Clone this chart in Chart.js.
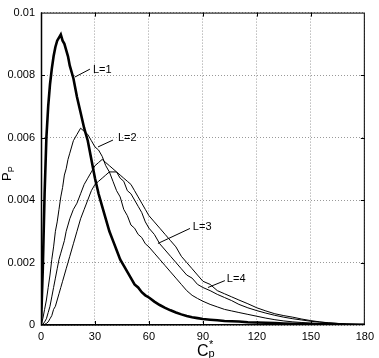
<!DOCTYPE html>
<html>
<head>
<meta charset="utf-8">
<script src="https://cdn.jsdelivr.net/npm/chart.js@4.4.1/dist/chart.umd.min.js"></script>
<style>
  html, body { margin: 0; padding: 0; background: #fff; }
</style>
</head>
<body>
<canvas id="chart" width="379" height="358"></canvas>
<script>
// ===== DATA =====
const cp = [0,1,2,3,4,5,6,7,8,9,10,11,12,13,14,15,16,
  18,20,22,24,26,28,30,32,34,36,38,40,42,44,46,48,50,52,54,56,58,60,
  63,66,69,72,75,78,81,84,87,90,
  94,98,102,106,110,
  115,120,125,130,135,140,145,150,155,160,165,170,175,180];

const pL1 = [0,0.0018,0.0042,0.0060,0.0070,0.0077,0.0082,0.0086,0.0089,0.0091,0.0092,0.0093,0.0091,0.0090,0.0088,0.0086,0.0083,
  0.0079,0.0073,0.0068,0.0063,0.0059,0.0053,0.0047,0.0042,0.0038,0.0034,0.0030,0.0027,0.0024,0.0021,0.0019,0.0017,0.0015,0.0013,0.0012,0.00105,0.00095,0.00088,
  0.00075,0.00064,0.00055,0.00047,0.00040,0.00034,0.00029,0.00025,0.00022,0.00019,
  0.00017,0.00015,0.00013,0.00012,0.00011,
  0.00009,0.00008,0.00007,0.00006,0.00005,0.00004,0.000035,0.00003,0.000025,0.00002,0.000015,0.00001,0.00001,0.000005];

const pL2 = [0,0.0002,0.0005,0.0008,0.0012,0.0016,0.0021,0.0025,0.0030,0.0033,0.0037,0.0041,0.0044,0.0048,0.0050,0.0053,0.0055,
  0.0059,0.0061,0.0063,0.0062,0.0061,0.0059,0.0057,0.0056,0.0054,0.0051,0.0049,0.0046,0.0043,0.0041,0.0037,0.0035,0.0032,0.0031,0.0029,0.0028,0.0026,0.0025,
  0.0023,0.0021,0.0019,0.0017,0.0015,0.0013,0.0011,0.00095,0.00085,0.00076,
  0.00066,0.00058,0.0005,0.00045,0.0004,
  0.00034,0.00028,0.00022,0.00017,0.00013,0.0001,0.00008,0.00006,0.00005,0.00004,0.00003,0.00002,0.00001,0.00001];

const pL3 = [0,0.00002,0.0001,0.0002,0.0004,0.0006,0.0009,0.0012,0.0015,0.0018,0.0021,0.0023,0.0025,0.0027,0.0030,0.0032,0.0034,
  0.0037,0.0039,0.0042,0.0045,0.0047,0.0049,0.0051,0.0052,0.0053,0.0052,0.0051,0.0050,0.0049,0.0047,0.0046,0.0043,0.0042,0.0040,0.0038,0.0036,0.0033,0.0031,
  0.0029,0.0026,0.0024,0.0022,0.0020,0.0018,0.0016,0.0015,0.0013,0.0012,
  0.0011,0.00098,0.00088,0.00078,0.00066,
  0.00055,0.00046,0.00038,0.00031,0.00025,0.0002,0.00016,0.00012,0.00009,0.00007,0.00005,0.00003,0.00002,0.00001];

const pL4 = [0,0,0.00002,0.00005,0.0001,0.0002,0.0003,0.0005,0.0006,0.0008,0.0010,0.0012,0.0014,0.0016,0.0018,0.0020,0.0022,
  0.0026,0.0030,0.0034,0.0037,0.0040,0.0043,0.0045,0.0046,0.0047,0.0048,0.0049,0.0049,0.0049,0.0048,0.0047,0.0046,0.0045,0.0043,0.0041,0.0039,0.0037,0.0035,
  0.0033,0.0031,0.0029,0.0027,0.0025,0.0022,0.0020,0.0018,0.0016,0.0014,
  0.0013,0.0011,0.0010,0.0009,0.0008,
  0.00068,0.00055,0.00045,0.00036,0.0003,0.00025,0.00019,0.00014,0.0001,0.00007,0.00005,0.00003,0.00002,0.00001];

const seriesNames = ["L=1", "L=2", "L=3", "L=4"];
const xTicks = [0, 30, 60, 90, 120, 150, 180];
const yTicks = [0, 0.002, 0.004, 0.006, 0.008, 0.01];

// callout labels: text anchor and pointer line, in data units
const calloutText = [[28.9, 0.00816], [42.8, 0.00598], [84.4, 0.00315], [103.3, 0.00148]];
const calloutLine = [
  [[27.2, 0.00819], [18.9, 0.00794]],
  [[40.0, 0.00592], [31.7, 0.0057]],
  [[82.8, 0.00309], [65.0, 0.00261]],
  [[102.2, 0.00142], [92.8, 0.0012]]
];

const FONT = "'Liberation Sans', Arial, Helvetica, sans-serif";

const pts = (ys) => cp.map((x, i) => ({x, y: ys[i]}));

// frame, inner ticks, axis titles, callouts
const decor = {
  id: "decor",
  afterDraw(chart){
    const {ctx, chartArea: a, scales: {x, y}} = chart;
    ctx.save();
    ctx.strokeStyle = "#000";
    ctx.lineWidth = 1;
    ctx.strokeRect(a.left + 0.5, a.top + 0.5, a.right - a.left - 1, a.bottom - a.top - 1);
    ctx.lineWidth = 1.5;
    ctx.beginPath();
    ctx.moveTo(a.left + 0.5, a.top); ctx.lineTo(a.left + 0.5, a.bottom);
    ctx.lineTo(a.right, a.bottom - 0.5);
    ctx.stroke();
    ctx.lineWidth = 1;
    ctx.beginPath();
    xTicks.slice(1, -1).forEach(v => {
      const px = Math.round(x.getPixelForValue(v)) + 0.5;
      ctx.moveTo(px, a.bottom); ctx.lineTo(px, a.bottom - 4);
      ctx.moveTo(px, a.top); ctx.lineTo(px, a.top + 4);
    });
    yTicks.slice(1, -1).forEach(v => {
      const py = Math.round(y.getPixelForValue(v)) + 0.5;
      ctx.moveTo(a.left, py); ctx.lineTo(a.left + 4, py);
      ctx.moveTo(a.right, py); ctx.lineTo(a.right - 4, py);
    });
    ctx.stroke();

    // callouts
    ctx.fillStyle = "#000";
    ctx.font = "11px " + FONT;
    ctx.textBaseline = "middle";
    ctx.textAlign = "left";
    seriesNames.forEach((name, i) => {
      const [tx, ty] = calloutText[i];
      ctx.fillText(name, x.getPixelForValue(tx), y.getPixelForValue(ty));
      const [[x0, y0], [x1, y1]] = calloutLine[i];
      ctx.beginPath();
      ctx.moveTo(x.getPixelForValue(x0), y.getPixelForValue(y0));
      ctx.lineTo(x.getPixelForValue(x1), y.getPixelForValue(y1));
      ctx.stroke();
    });

    // x title: C_p^*
    ctx.textBaseline = "alphabetic";
    ctx.font = "16px " + FONT;
    ctx.fillText("C", 197, 356);
    const cw = ctx.measureText("C").width;
    ctx.font = "11px " + FONT;
    ctx.fillText("p", 197 + cw, 357);
    ctx.fillText("*", 197 + cw + 0.5, 348);

    // y title: P_P rotated
    ctx.translate(11, 181);
    ctx.rotate(-Math.PI / 2);
    ctx.font = "13px " + FONT;
    ctx.fillText("P", 0, 0);
    const pw = ctx.measureText("P").width;
    ctx.font = "9px " + FONT;
    ctx.fillText("P", pw, 3);
    ctx.restore();
  }
};

new Chart(document.getElementById("chart"), {
  type: "line",
  data: {
    datasets: [
      {label: seriesNames[0], data: pts(pL1), borderWidth: 2.6},
      {label: seriesNames[1], data: pts(pL2), borderWidth: 1},
      {label: seriesNames[2], data: pts(pL3), borderWidth: 1},
      {label: seriesNames[3], data: pts(pL4), borderWidth: 1}
    ].map(d => ({...d, borderColor: "#000", pointRadius: 0, tension: 0, fill: false}))
  },
  options: {
    responsive: false,
    animation: false,
    devicePixelRatio: 1,
    layout: {padding: {left: 0, top: 7, right: 14, bottom: 0}},
    plugins: {legend: {display: false}, tooltip: {enabled: false}},
    scales: {
      x: {
        type: "linear", min: 0, max: 180,
        afterBuildTicks: s => { s.ticks = xTicks.map(v => ({value: v})); },
        afterFit: s => { s.height = 33; },
        grid: {color: "rgba(0,0,0,0.4)", drawTicks: false},
        border: {display: false, dash: [1, 2]},
        ticks: {color: "#000", padding: 5, maxRotation: 0, font: {family: FONT, size: 11}}
      },
      y: {
        type: "linear", min: 0, max: 0.01,
        afterBuildTicks: s => { s.ticks = yTicks.map(v => ({value: v})); },
        afterFit: s => { s.width = 41; },
        grid: {color: "rgba(0,0,0,0.4)", drawTicks: false},
        border: {display: false, dash: [1, 2]},
        ticks: {
          color: "#000", padding: 6, font: {family: FONT, size: 11},
          callback: v => v === 0 ? "0" : String(+v.toFixed(3))
        }
      }
    }
  },
  plugins: [decor]
});
</script>
</body>
</html>
